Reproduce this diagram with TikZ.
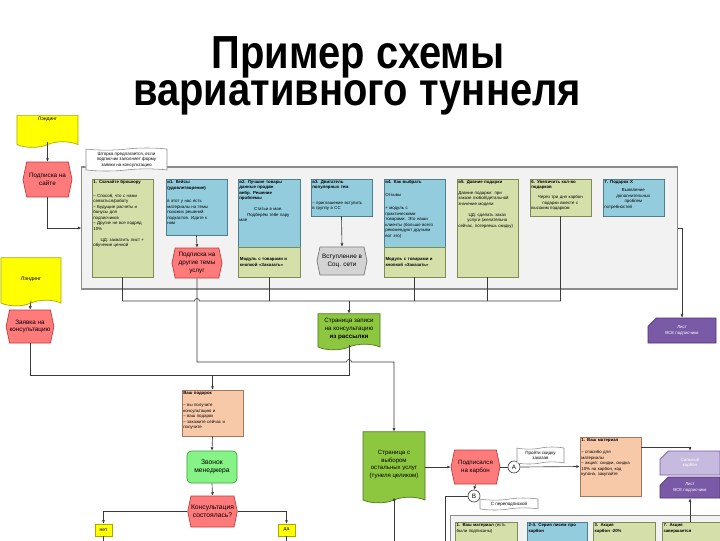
\documentclass[tikz,border=0pt]{standalone}
\usepackage{fontspec}
\setmainfont{Liberation Sans}
\newfontfamily\titlefont[FakeStretch=0.86]{Liberation Sans}
\usetikzlibrary{shapes.symbols, shapes.misc, arrows.meta}
\definecolor{land-yellow}{HTML}{FFFF00}
\definecolor{land-line}{HTML}{A8A800}
\definecolor{evt-red}{HTML}{FF7B7B}
\definecolor{evt-line}{HTML}{C23B3B}
\definecolor{olive-bg}{HTML}{D5DFAA}
\definecolor{olive-line}{HTML}{7F8A55}
\definecolor{sky-bg}{HTML}{93CDDD}
\definecolor{sky-line}{HTML}{4F7F8C}
\definecolor{frame-bg}{HTML}{F2F2F2}
\definecolor{frame-line}{HTML}{8C8C8C}
\definecolor{peach-bg}{HTML}{F8C9A8}
\definecolor{peach-line}{HTML}{A8765A}
\definecolor{call-green}{HTML}{86F386}
\definecolor{call-line}{HTML}{3E9E3E}
\definecolor{doc-green}{HTML}{8DC63F}
\definecolor{doc-line}{HTML}{4E7A1E}
\definecolor{list-purple}{HTML}{7A59A6}
\definecolor{list-lilac}{HTML}{C7BADF}
\definecolor{list-line}{HTML}{4E3575}
\definecolor{hex-grey}{HTML}{D3D3D3}
\definecolor{hex-line}{HTML}{7A7A7A}
\definecolor{wire-grey}{HTML}{3A3A3A}
\newcommand\tinyf{\fontsize{3.1}{3.9}\selectfont}

\begin{document}
\begin{tikzpicture}[x=0.025cm, y=-0.025cm,
    >={Latex[length=2.4pt, width=2.2pt]},
    every node/.style={font=\tinyf},
    titletxt/.style={font=\fontsize{33}{33}\titlefont\bfseries, anchor=base, inner sep=0pt},
    panel/.style={draw, rectangle, inner sep=0pt, line width=0.5pt},
    boxtxt/.style={anchor=north west, align=left, text width=#1, inner sep=1pt},
    hexevt/.style={signal, signal to=east and west, signal pointer angle=156,
      draw=evt-line, fill=evt-red, line width=0.5pt, align=center, inner sep=0pt,
      font=\fontsize{4.5}{5.4}\selectfont},
    docu/.style={tape, tape bend top=none, tape bend height=4pt, draw=doc-line,
      fill=doc-green, line width=0.5pt, align=center, inner sep=0pt,
      font=\fontsize{4.4}{5.4}\selectfont},
    notetape/.style={tape, tape bend height=1.5pt, draw=frame-line, fill=white,
      line width=0.4pt, align=center, inner sep=0pt, font=\fontsize{3.2}{3.9}\selectfont},
    listcard/.style={chamfered rectangle, chamfered rectangle corners=north west,
      chamfered rectangle xsep=3pt, chamfered rectangle ysep=3pt, draw=list-line,
      fill=list-purple, text=white, align=center, inner sep=0pt, line width=0.5pt},
    conn/.style={circle, draw=wire-grey, fill=white, minimum size=0.3cm, inner sep=0pt,
      line width=0.45pt, font=\fontsize{4.5}{5}\selectfont},
    link/.style={draw=wire-grey, line width=0.45pt}]
  \useasboundingbox (0,0) rectangle (720,540);
  \fill[white] (0,0) rectangle (720,540);

  % title
  \node[titletxt] (title1) at (358,68) {Пример схемы};
  \node[titletxt] (title2) at (357,105) {вариативного туннеля};

  % landing pages and entry events
  \node[docu, fill=land-yellow, draw=land-line, minimum width=1.525cm,
        minimum height=0.8cm, anchor=north] (land1) at (47.5,115) {};
  \node[font=\fontsize{3.6}{4}\selectfont] (land1t) at ([yshift=-3pt]land1.north) {Лэндинг};
  \node[hexevt, minimum width=1.225cm, minimum height=0.875cm] (sub1) at (47.5,179.5) {Подписка на\\сайте};
  \node[docu, fill=land-yellow, draw=land-line, minimum width=1.5cm,
        minimum height=1.2cm, font=\fontsize{3.8}{4.4}\selectfont] (land2) at (31,279) {Лэндинг};
  \node[hexevt, minimum width=1.15cm, minimum height=0.825cm] (zk) at (30,326.5) {Заявка на\\консультацию};

  % tunnel frame
  \node[panel, fill=frame-bg, draw=frame-line, line width=0.8pt,
        minimum width=14.875cm, minimum height=3.05cm] (frame) at (379.5,228) {};
  \node[notetape, minimum width=2.025cm, minimum height=0.575cm] (note1) at (126.5,159.5)
        {Шторка предлагается, если\\подписчик заполняет форму\\заявки на консультацию};

  % column 1
  \node[panel, fill=olive-bg, draw=olive-line, minimum width=1.525cm, minimum height=2.45cm] (c1) at (122.5,228) {};
  \node[boxtxt=1.45cm] (c1t) at (c1.north west) {\textbf{1. Скачайте брошюру}\\[6pt]
        – Способ, что с нами\\ связаться/работу\\ – Будущие расчеты и\\ бонусы для\\ подписчиков\\
        – Другие не все подряд\\ 10\%\par\vspace{4pt}\centering ЦД: захватить лист +\\ обучение ценной};
  % column 2
  \node[panel, fill=sky-bg, draw=sky-line, minimum width=1.525cm, minimum height=1.4cm] (c2) at (196.5,207) {};
  \node[boxtxt=1.45cm] (c2t) at (c2.north west) {\textbf{и1. Кейсы}\\ \textbf{(удовлетворение)}\\[6pt]
        в этот у нас есть\\ материалы на темы\\ похожих решений\\ подкастов. Идите к\\ нам};
  \node[hexevt, minimum width=1.25cm, minimum height=0.75cm] (h2) at (197,263) {Подписка на\\другие темы\\услуг};
  % column 3
  \node[panel, fill=sky-bg, draw=sky-line, minimum width=1.55cm, minimum height=1.7cm] (c3) at (269,213) {};
  \node[boxtxt=1.45cm] (c3t) at (c3.north west) {\textbf{в2. Лучшие товары}\\ \textbf{данные продаж}\\
        \textbf{вебр. Решение}\\ \textbf{проблемы}\par\vspace{4pt}\centering Статьи в мае.\\ Подберём тебе пару\\ мае};
  \node[panel, fill=olive-bg, draw=olive-line, minimum width=1.55cm, minimum height=0.75cm,
        text width=1.45cm, align=left, font=\tinyf\bfseries] (c3b) at (269,262) {Модуль с товарами и кнопкой «Заказать»};
  % column 4
  \node[panel, fill=sky-bg, draw=sky-line, minimum width=1.525cm, minimum height=0.925cm] (c4) at (341.5,197.5) {};
  \node[boxtxt=1.45cm] (c4t) at (c4.north west) {\textbf{в3. Двигатель}\\ \textbf{популярных тем}\\[7pt]
        – приглашение вступить\\ в группу в СС};
  \node[hexevt, fill=hex-grey, draw=hex-line, minimum width=1.25cm, minimum height=0.7cm] (h4) at (342,261) {Вступление в\\Соц. сети};
  % column 5
  \node[panel, fill=sky-bg, draw=sky-line, minimum width=1.525cm, minimum height=1.7cm] (c5) at (414.5,213) {};
  \node[boxtxt=1.45cm] (c5t) at (c5.north west) {\textbf{в4. Как выбрать}\\[5pt] Отзывы\\[6pt]
        + модуль с\\ практическими\\ товарами. Это наши\\ клиенты (больше всего\\ рекомендуют друзьям\\ вот это)};
  \node[panel, fill=olive-bg, draw=olive-line, minimum width=1.525cm, minimum height=0.75cm,
        text width=1.45cm, align=left, font=\tinyf\bfseries] (c5b) at (414.5,262) {Модуль с товарами и кнопкой «Заказать»};
  % column 6
  \node[panel, fill=olive-bg, draw=olive-line, minimum width=1.525cm, minimum height=2.45cm] (c6) at (487.5,228) {};
  \node[boxtxt=1.45cm] (c6t) at (c6.north west) {\textbf{в5. Давние подарки}\\[4pt] Давние подарки: при\\
        заказе любой/детальной\\ значение модели\par\vspace{4pt}\centering ЦД: сделать заказ\\ услуги (желательно\\ сейчас, потеряешь скидку)};
  % column 7
  \node[panel, fill=olive-bg, draw=olive-line, minimum width=1.525cm, minimum height=0.925cm] (c7) at (560.5,197.5) {};
  \node[boxtxt=1.45cm] (c7t) at (c7.north west) {\textbf{6. Увеличить кол-во}\\ \textbf{подарков}\par\vspace{3pt}
        \centering Через три дня карбон\\ подарки вместе с\\ высоким подарком};
  % column 8
  \node[panel, fill=sky-bg, draw=sky-line, minimum width=1.525cm, minimum height=0.925cm] (c8) at (633.5,197.5) {};
  \node[boxtxt=1.45cm] (c8t) at (c8.north west) {\textbf{7. Подарок Х}\par\vspace{2pt}
        \centering Выявление\\ дополнительных\\ проблем\\ потребностей};

  % pages and lists under the frame
  \node[docu, minimum width=1.55cm, minimum height=0.9cm] (pg1) at (349,329) {Страница записи\\на консультацию\\\textbf{из рассылки}};
  \node[listcard, minimum width=1.7cm, minimum height=0.625cm] (lst1) at (682,330.5) {Лист\\ВСЕ подписчики};

  % consultation branch
  \node[panel, fill=peach-bg, draw=peach-line, minimum width=1.525cm, minimum height=1.15cm] (gift) at (212.5,413) {};
  \node[boxtxt=1.45cm] (giftt) at (gift.north west) {\textbf{Ваш подарок}\\[5pt] – вы получите\\
        консультацию и\\ – ваш подарок\\ – закажите сейчас и\\ получите};
  \node[panel, rounded corners=3pt, fill=call-green, draw=call-line, minimum width=1.25cm,
        minimum height=0.8cm, align=center, font=\fontsize{4.8}{5.8}\selectfont] (call) at (212,467) {Звонок\\менеджера};
  \node[hexevt, minimum width=1.225cm, minimum height=0.775cm, font=\fontsize{4.8}{5.8}\selectfont] (cons) at (212.5,511.5) {Консультация\\состоялась?};
  \node[panel, fill=land-yellow, draw=land-line, minimum width=0.425cm, minimum height=0.3cm,
        font=\fontsize{3.6}{4}\selectfont] (no) at (103.5,530) {нет};
  \node[panel, fill=land-yellow, draw=land-line, minimum width=0.425cm, minimum height=0.3cm,
        font=\fontsize{3.6}{4}\selectfont] (yes) at (286.5,530) {да};

  % carbon branch
  \node[docu, minimum width=1.55cm, minimum height=1.775cm, font=\fontsize{4.3}{5.3}\selectfont] (pg2) at (394,464.5)
        {Страница с\\выбором\\остальных услуг\\(тунеля целиком)};
  \node[hexevt, minimum width=1.225cm, minimum height=0.85cm, font=\fontsize{4.4}{5.3}\selectfont] (carb) at (475.5,467) {Подписался\\на карбон};
  \node[conn] (A) at (514,467) {A};
  \node[conn] (B) at (474,496) {B};
  \node[notetape, minimum width=1.175cm, minimum height=0.425cm] (noteA) at (540.5,455.5) {Пройти скидку\\заказав};
  \node[notetape, minimum width=1.45cm, minimum height=0.3cm] (noteB) at (509,504) {С переподпиской};
  \node[panel, fill=peach-bg, draw=peach-line, minimum width=1.525cm, minimum height=1.475cm] (mat1) at (610.5,466.5) {};
  \node[boxtxt=1.45cm] (mat1t) at (mat1.north west) {\textbf{1. Ваш материал}\\[5pt] – спасибо для\\
        материалы\\ – акция: скидки, скидка\\ 10\% на карбон, код\\ купона, закупайте};
  \node[listcard, fill=list-lilac, draw=list-purple, minimum width=1.5cm, minimum height=0.6cm] (strong) at (690,463) {Сильный\\карбон};
  \node[listcard, minimum width=1.5cm, minimum height=0.525cm] (lst2) at (690,487.5) {Лист\\ВСЕ подписчики};

  % second frame, cut by the page edge
  \node[panel, fill=frame-bg, draw=frame-line, line width=0.8pt, minimum width=7cm,
        minimum height=1.5cm, anchor=north west] (frame2) at (450,515) {};
  \node[panel, fill=olive-bg, draw=olive-line, minimum width=1.55cm, minimum height=1cm, anchor=north west] (d1) at (455,522) {};
  \node[boxtxt=1.45cm] (d1t) at (d1.north west) {\textbf{1. Ваш материал} (есть\\ были подписаны)};
  \node[panel, fill=sky-bg, draw=sky-line, minimum width=1.5cm, minimum height=1cm, anchor=north west] (d2) at (527,522) {};
  \node[boxtxt=1.4cm] (d2t) at (d2.north west) {\textbf{2-4. Серия писем про}\\ \textbf{карбон}};
  \node[panel, fill=olive-bg, draw=olive-line, minimum width=1.55cm, minimum height=1cm, anchor=north west] (d3) at (593,522) {};
  \node[boxtxt=1.45cm] (d3t) at (d3.north west) {\textbf{3. Акция}\\ \textbf{карбон -20\%}};
  \node[panel, fill=olive-bg, draw=olive-line, minimum width=1.55cm, minimum height=1cm, anchor=north west] (d4) at (662,522) {};
  \node[boxtxt=1.45cm] (d4t) at (d4.north west) {\textbf{7. Акция}\\ \textbf{завершается}};

  % connectors, top part
  \coordinate (busL) at (122.5,301);
  \coordinate (busR) at (560.5,301);
  \coordinate (midL) at (0,362);
  \coordinate (j1) at (212.5,375);
  \draw[link, ->] (land1.south) -- (sub1.north);
  \draw[link, ->] (sub1.south) |- (frame.west);
  \draw[link, ->] (c2.south) -- (h2.north);
  \draw[link, ->] (c4.south) -- (h4.north);
  \draw[link] (c1.south) -- (c1.south |- busL);
  \draw[link] (c3b.south) -- (c3b.south |- busL);
  \draw[link] (c5b.south) -- (c5b.south |- busL);
  \draw[link] (c6.south) -- (c6.south |- busL);
  \draw[link] (c7.south) -- (c7.south |- busL);
  \draw[link] (busL) -- ([xshift=-1.8pt]h2.south |- busL) arc[start angle=180, end angle=0, radius=1.8pt] -- (busR);
  \draw[link, ->] (pg1.north |- busL) -- (pg1.north);
  \draw[link, ->] (frame.east) -| (lst1.north);
  \draw[link, ->] (h2.south) -- (h2.south |- midL)
        -- ([xshift=-1.8pt]pg1.south |- midL) arc[start angle=180, end angle=0, radius=1.8pt]
        -- (pg2.north |- midL) -- (pg2.north);
  \draw[link, ->] (land2.south) -- (zk.north);
  \draw[link] (pg1.south) -- (pg1.south |- j1) -- (j1);
  \draw[link] (zk.south) |- (j1);
  \draw[link, ->] (j1) -- (gift.north);

  % connectors, bottom part
  \coordinate (noout) at (103.5,545);
  \coordinate (yesout) at (286.5,545);
  \coordinate (pg2in) at (394,545);
  \coordinate (bout) at (445,545);
  \draw[link, ->] (gift.south) -- (call.north);
  \draw[link, ->] (call.south) -- (cons.north);
  \draw[link, ->] (cons.west) -| (no.north);
  \draw[link, ->] (cons.east) -| (yes.north);
  \draw[link] (no.south) -- (noout);
  \draw[link] (yes.south) -- (yesout);
  \draw[link, ->] (pg2in) -- (pg2.south);
  \draw[link, ->] (pg2.east |- carb.west) -- (carb.west);
  \draw[link] (carb.east) -- (A.west);
  \draw[link, ->] (A.east) -- (mat1.west);
  \draw[link, ->] ([yshift=14pt]mat1.east) -| (strong.north);
  \draw[link, ->] (carb.south) -- (B.north);
  \draw[link] (B.west) -| (bout);
  \draw[link, ->] (lst2.south |- d4.north) -- (lst2.south);
\end{tikzpicture}
\end{document}
